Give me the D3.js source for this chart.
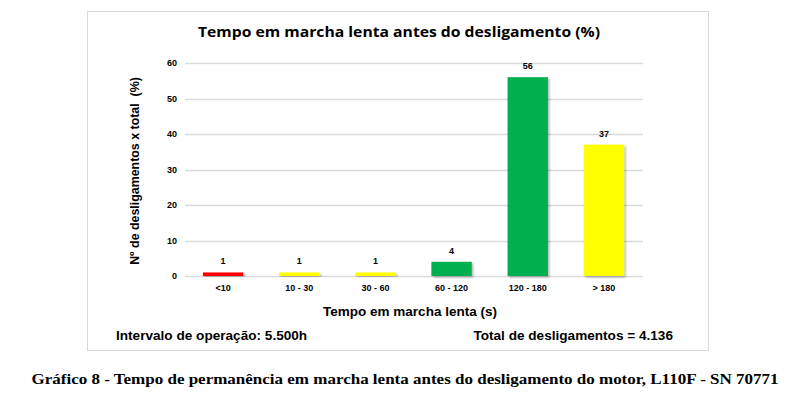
<!DOCTYPE html>
<html>
<head>
<meta charset="utf-8">
<script src="https://cdn.jsdelivr.net/npm/d3@7"></script>
<style>
  body { margin: 0; background: #fff; }
  svg { display: block; }
</style>
</head>
<body>
<svg id="chart"></svg>
<script>
// data
const categories = ['<10', '10 - 30', '30 - 60', '60 - 120', '120 - 180', '> 180']
const values = [1, 1, 1, 4, 56, 37]
const barColors = ['#ff0000', '#ffff00', '#ffff00', '#00b050', '#00b050', '#ffff00']
const yTicks = [0, 10, 20, 30, 40, 50, 60]

const width = 811, height = 395
const sans = 'Liberation Sans, Arial, sans-serif'

const svg = d3.select('#chart').attr('width', width).attr('height', height)

// drop shadow for bars
const defs = svg.append('defs')
const f = defs.append('filter').attr('id', 'shadow').attr('x', '-20%').attr('y', '-20%').attr('width', '140%').attr('height', '140%')
f.append('feDropShadow').attr('dx', 1.5).attr('dy', 1.5).attr('stdDeviation', 1.2).attr('flood-color', '#000').attr('flood-opacity', 0.3)

// chart frame
svg.append('rect')
	.attr('x', 87.5).attr('y', 11.5)
	.attr('width', 621).attr('height', 339)
	.attr('fill', '#fff')
	.attr('stroke', '#d9d9d9')

svg.append('text')
	.attr('x', 399).attr('y', 37)
	.attr('text-anchor', 'middle')
	.style('font-family', 'Open Sans, sans-serif')
	.style('font-weight', 700)
	.style('font-size', '15px')
	.attr('textLength', 402).attr('lengthAdjust', 'spacingAndGlyphs')
	.text('Tempo em marcha lenta antes do desligamento (%)')

const x = d3.scaleBand().domain(categories).range([185, 642]).paddingInner(0.47).paddingOuter(0.235)
const y = d3.scaleLinear().domain([0, 60]).range([276, 63])

// gridlines
svg.append('g')
	.selectAll('line')
	.data(yTicks)
	.enter()
	.append('line')
	.attr('x1', 185).attr('x2', 643)
	.attr('y1', d => Math.round(y(d)) + 0.5)
	.attr('y2', d => Math.round(y(d)) + 0.5)
	.attr('stroke', '#d9d9d9')
	.attr('stroke-width', 1.5)

const yAxis = d3.axisLeft(y).tickValues(yTicks).tickSize(0).tickPadding(8)
svg.append('g')
	.attr('transform', 'translate(185,0)')
	.call(yAxis)
	.call(g => g.select('.domain').remove())
	.selectAll('text')
	.style('font-family', sans)
	.style('font-weight', 'bold')
	.style('font-size', '9px')
	.attr('fill', '#000')

// bars
svg.append('g')
	.selectAll('rect')
	.data(values)
	.enter()
	.append('rect')
	.attr('x', (d, i) => x(categories[i]))
	.attr('width', x.bandwidth())
	.attr('y', d => y(d))
	.attr('height', d => y(0) - y(d))
	.attr('fill', (d, i) => barColors[i])
	.attr('filter', 'url(#shadow)')

// value labels
svg.append('g')
	.selectAll('text')
	.data(values)
	.enter()
	.append('text')
	.attr('x', (d, i) => x(categories[i]) + x.bandwidth() / 2)
	.attr('y', d => y(d) - 8)
	.attr('text-anchor', 'middle')
	.style('font-family', sans)
	.style('font-weight', 'bold')
	.style('font-size', '9px')
	.text(d => d)

const xAxis = d3.axisBottom(x).tickSize(0).tickPadding(9)
svg.append('g')
	.attr('transform', 'translate(0,276)')
	.call(xAxis)
	.call(g => g.select('.domain').remove())
	.selectAll('text')
	.style('font-family', sans)
	.style('font-weight', 'bold')
	.style('font-size', '9px')
	.attr('fill', '#000')

// axis titles
svg.append('text')
	.attr('x', 410).attr('y', 316)
	.attr('text-anchor', 'middle')
	.style('font-family', sans)
	.style('font-weight', 'bold')
	.style('font-size', '13.5px')
	.text('Tempo em marcha lenta (s)')

svg.append('text')
	.attr('transform', 'translate(139,171) rotate(-90)')
	.attr('text-anchor', 'middle')
	.style('font-family', sans)
	.style('font-weight', 'bold')
	.style('font-size', '12.4px')
	.attr('xml:space', 'preserve')
	.text('Nº de desligamentos x total  (%)')

// notes
svg.append('text')
	.attr('x', 116).attr('y', 340)
	.style('font-family', sans)
	.style('font-weight', 'bold')
	.style('font-size', '13.6px')
	.text('Intervalo de operação: 5.500h')

svg.append('text')
	.attr('x', 673).attr('y', 340)
	.attr('text-anchor', 'end')
	.style('font-family', sans)
	.style('font-weight', 'bold')
	.style('font-size', '13.6px')
	.text('Total de desligamentos = 4.136')

// caption
svg.append('text')
	.attr('x', 405).attr('y', 384)
	.attr('text-anchor', 'middle')
	.style('font-family', 'Liberation Serif, Times New Roman, serif')
	.style('font-weight', 'bold')
	.style('font-size', '14.5px')
	.attr('textLength', 747).attr('lengthAdjust', 'spacingAndGlyphs')
	.text('Gráfico 8 - Tempo de permanência em marcha lenta antes do desligamento do motor, L110F - SN 70771')
</script>
</body>
</html>
